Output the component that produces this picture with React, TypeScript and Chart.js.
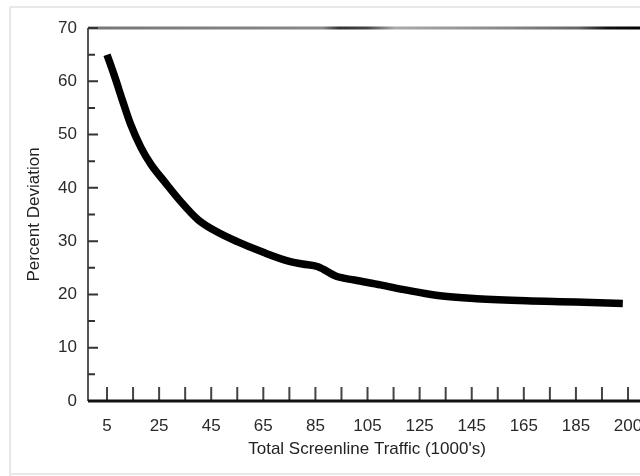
import React, { useEffect, useRef } from 'react';
import { Chart, registerables } from 'chart.js';

Chart.register(...registerables);

// Total screenline traffic (1000's) and percent deviation
const trafficK = [5, 8, 11, 14, 18, 22, 27, 33, 40, 47, 55, 65, 75, 80, 86, 93, 100, 110, 120, 132, 147, 166, 185, 203];
const percentDeviation = [65, 60.8, 56.3, 52, 47.6, 44.3, 41.2, 37.6, 34, 31.8, 29.9, 27.9, 26.2, 25.7, 25.2, 23.4, 22.7, 21.8, 20.8, 19.8, 19.2, 18.8, 18.6, 18.3];

const xTickValues = [5, 25, 45, 65, 85, 105, 125, 145, 165, 185, 205];
const xTickLabels = ['5', '25', '45', '65', '85', '105', '125', '145', '165', '185', '200'];
const xTickMarks = [5, 15, 25, 35, 45, 55, 65, 75, 85, 95, 105, 115, 125, 135, 145, 155, 165, 175, 185, 195, 205];

const yTickValues = [0, 10, 20, 30, 40, 50, 60, 70];
const yMinorMarks = [5, 15, 25, 35, 45, 55, 65];

const xTitle = "Total Screenline Traffic (1000's)";
const yTitle = 'Percent Deviation';

const FONT_FAMILY = '"Liberation Sans", Arial, sans-serif';

const axesPlugin = {
  id: 'scanAxes',
  beforeDraw(chart: any) {
    const ctx = chart.ctx;
    ctx.save();
    ctx.strokeStyle = '#e8e8e8';
    ctx.lineWidth = 2;
    ctx.beginPath();
    ctx.moveTo(10, 7);
    ctx.lineTo(chart.width, 7);
    ctx.moveTo(10, 7);
    ctx.lineTo(10, chart.height);
    ctx.moveTo(10, 474);
    ctx.lineTo(chart.width, 474);
    ctx.stroke();
    ctx.restore();
  },
  afterDraw(chart: any) {
    const { ctx, chartArea } = chart;
    const { left, right, top, bottom } = chartArea;
    const xs = chart.scales.x;
    const ys = chart.scales.y;
    ctx.save();
    // top frame line
    const grad = ctx.createLinearGradient(left, 0, right, 0);
    grad.addColorStop(0, '#777');
    grad.addColorStop(0.42, '#888');
    grad.addColorStop(0.45, '#333');
    grad.addColorStop(0.5, '#444');
    grad.addColorStop(0.55, '#aaa');
    grad.addColorStop(0.75, '#888');
    grad.addColorStop(0.88, '#666');
    grad.addColorStop(0.93, '#111');
    grad.addColorStop(1, '#000');
    ctx.strokeStyle = grad;
    ctx.lineWidth = 3;
    ctx.beginPath();
    ctx.moveTo(left, top);
    ctx.lineTo(right, top);
    ctx.stroke();
    // y axis line
    ctx.strokeStyle = '#555';
    ctx.lineWidth = 2;
    ctx.beginPath();
    ctx.moveTo(left, top);
    ctx.lineTo(left, bottom);
    ctx.stroke();
    // y ticks (inward)
    ctx.strokeStyle = '#333';
    ctx.lineWidth = 2;
    ctx.beginPath();
    yTickValues.forEach((v) => {
      const y = ys.getPixelForValue(v);
      ctx.moveTo(left, y);
      ctx.lineTo(left + 10, y);
    });
    yMinorMarks.forEach((v) => {
      const y = ys.getPixelForValue(v);
      ctx.moveTo(left, y);
      ctx.lineTo(left + 7, y);
    });
    ctx.stroke();
    // x ticks (upward)
    ctx.strokeStyle = '#444';
    ctx.beginPath();
    xTickMarks.forEach((v) => {
      const x = xs.getPixelForValue(v);
      ctx.moveTo(x, bottom - 14);
      ctx.lineTo(x, bottom);
    });
    ctx.stroke();
    // x axis line
    ctx.strokeStyle = '#111';
    ctx.lineWidth = 3;
    ctx.beginPath();
    ctx.moveTo(left, bottom);
    ctx.lineTo(right, bottom);
    ctx.stroke();
    ctx.restore();
  },
};

export default function App() {
  const canvasRef = useRef<HTMLCanvasElement | null>(null);

  useEffect(() => {
    const canvas = canvasRef.current;
    if (!canvas) return;
    const tickFont = { family: FONT_FAMILY, size: 17 };
    const chart = new Chart(canvas, {
      type: 'line',
      data: {
        datasets: [
          {
            data: trafficK.map((x, i) => ({ x, y: percentDeviation[i] })),
            borderColor: '#000',
            borderWidth: 7.5,
            pointRadius: 0,
            cubicInterpolationMode: 'monotone',
            borderCapStyle: 'butt',
            fill: false,
          },
        ],
      },
      options: {
        animation: false,
        responsive: false,
        maintainAspectRatio: false,
        layout: { padding: { left: 0, top: 28, right: 14, bottom: 0 } },
        plugins: { legend: { display: false }, tooltip: { enabled: false } },
        scales: {
          x: {
            type: 'linear',
            min: -2.3,
            max: 211.9,
            afterFit: (s: any) => {
              s.height = 75;
            },
            afterBuildTicks: (s: any) => {
              s.ticks = xTickValues.map((v) => ({ value: v }));
            },
            ticks: {
              autoSkip: false,
              maxRotation: 0,
              minRotation: 0,
              padding: 15,
              color: '#2a2a2a',
              font: tickFont,
              callback: (v: any) => {
                const i = xTickValues.indexOf(Number(v));
                return i >= 0 ? xTickLabels[i] : '';
              },
            },
            grid: { display: false, drawTicks: false },
            border: { display: false },
            title: {
              display: true,
              text: xTitle,
              color: '#222',
              font: { family: FONT_FAMILY, size: 17 },
              padding: { top: 0, bottom: 16 },
            },
          },
          y: {
            type: 'linear',
            min: 0,
            max: 70,
            afterFit: (s: any) => {
              s.width = 88;
            },
            afterBuildTicks: (s: any) => {
              s.ticks = yTickValues.map((v) => ({ value: v }));
            },
            ticks: {
              padding: 11,
              color: '#2a2a2a',
              font: tickFont,
            },
            grid: { display: false, drawTicks: false },
            border: { display: false },
            title: {
              display: true,
              text: yTitle,
              color: '#222',
              font: { family: FONT_FAMILY, size: 17 },
              padding: { top: 24, bottom: 0 },
            },
          },
        },
      },
      plugins: [axesPlugin],
    } as any);
    return () => chart.destroy();
  }, []);

  return (
    <div
      style={{
        position: 'absolute',
        left: 0,
        top: 0,
        width: 640,
        height: 476,
        overflow: 'hidden',
        background: '#fff',
      }}
    >
      <canvas ref={canvasRef} width={660} height={476} style={{ display: 'block', width: 660, height: 476 }} />
    </div>
  );
}
